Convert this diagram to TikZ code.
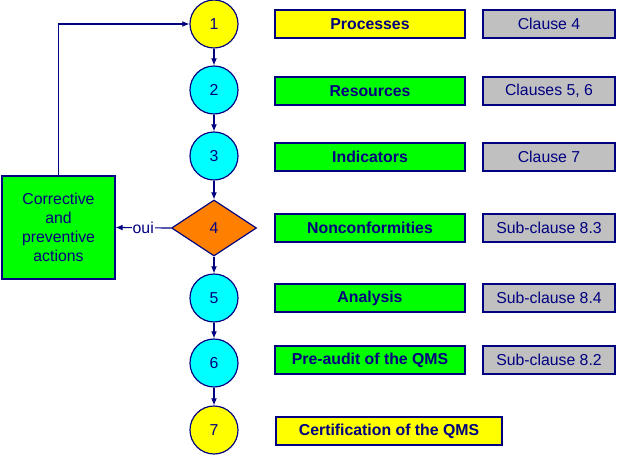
\documentclass[tikz,border=0pt]{standalone}
\usepackage{fontspec}
\setmainfont{Liberation Sans}
\usetikzlibrary{shapes.geometric,arrows.meta}
\definecolor{qnavy}{RGB}{0,0,128}
\definecolor{qorange}{RGB}{255,128,0}
\definecolor{qgray}{RGB}{192,192,192}
\definecolor{qcyan}{RGB}{0,255,255}
\definecolor{qyellow}{RGB}{255,255,0}
\definecolor{qgreen}{RGB}{0,255,0}
\begin{document}
\begin{tikzpicture}[x=.03cm, y=-.03cm, >={Latex[length=6pt,width=5pt]},
  every node/.style={font=\fontsize{13.5}{16.4}\selectfont, text=qnavy},
  ball/.style={circle, draw=qnavy, line width=1pt, minimum size=1.44cm, inner sep=0pt},
  task/.style={draw=qnavy, line width=1pt, minimum width=5.7cm, minimum height=.84cm,
    font=\fontsize{13.5}{16.4}\selectfont\bfseries},
  clause/.style={draw=qnavy, fill=qgray, line width=1pt, minimum width=3.96cm, minimum height=.84cm},
  link/.style={->, draw=qnavy, line width=1pt}]
\useasboundingbox (0,0) rectangle (617,456);
\foreach \n/\y/\c in {1/24/qyellow,2/90/qcyan,3/156/qcyan,5/298/qcyan,6/363/qcyan,7/430/qyellow}
{
    \node[ball, fill=\c] (c\n) at (214,\y) {\n};
}
\node[diamond, draw=qnavy, fill=qorange, line width=1pt, minimum width=2.55cm,
  minimum height=1.68cm, inner sep=0pt] (c4) at (214,228) {4};
\foreach \n/\y/\c/\t/\k in {1/24/qyellow/Processes/Clause 4,
  2/91/qgreen/Resources/{Clauses 5, 6}, 3/157/qgreen/Indicators/Clause 7,
  4/228/qgreen/Nonconformities/Sub-clause 8.3, 5/298/qgreen/Analysis/Sub-clause 8.4,
  6/360/qgreen/Pre-audit of the QMS/Sub-clause 8.2}
{
    \node[task, fill=\c] (t\n) at (370,\y) {\t};
    \node[clause] (k\n) at (549,\y) {\k};
}
\node[task, fill=qyellow, minimum width=6.78cm] (t7) at (389,431) {Certification of the QMS};
\node[draw=qnavy, fill=qgreen, line width=1pt, align=center, minimum width=3.39cm,
  minimum height=3.09cm] (act) at (58.5,227.5) {Corrective\\and\\preventive\\actions};
% main flow
\foreach \a/\b in {1/2,2/3,3/4,4/5,5/6,6/7}
    \draw[link] (c\a) -- (c\b);
\draw[link] (c4.west) -- node[fill=white, inner sep=1pt]{oui} (act.east);
\draw[link] (act.north) |- (c1.west);
\end{tikzpicture}
\end{document}
